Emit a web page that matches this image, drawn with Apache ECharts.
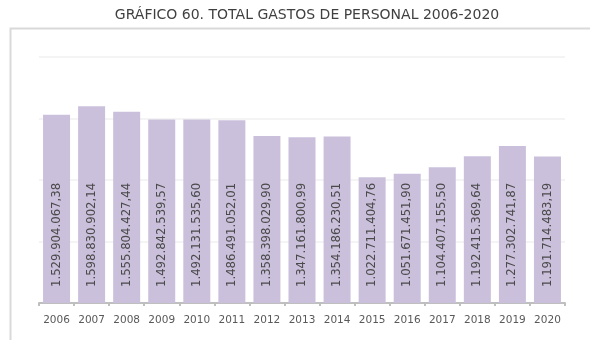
<!DOCTYPE html>
<html>
<head>
<meta charset="utf-8">
<script src="https://cdn.jsdelivr.net/npm/echarts@6/dist/echarts.min.js"></script>
<style>
  html, body { margin: 0; padding: 0; background: #ffffff; }
  #chart { width: 590px; height: 340px; }
</style>
</head>
<body>
<div id="chart"></div>
<script>
// Personnel expenses per year, in euros
const years = ['2006', '2007', '2008', '2009', '2010', '2011', '2012', '2013', '2014', '2015', '2016', '2017', '2018', '2019', '2020'];
const gastos = [1529904067.38, 1598830902.14, 1555804427.44, 1492842539.57, 1492131535.60, 1486491052.01, 1358398029.90, 1347161800.99, 1354186230.51, 1022711404.76, 1051671451.90, 1104407155.50, 1192415369.64, 1277302741.87, 1191714483.19];
const titulo = 'GRÁFICO 60. TOTAL GASTOS DE PERSONAL 2006-2020';

// Spanish number format: thousands with '.', decimals with ','
function formatoES(v) {
  const parts = v.toFixed(2).split('.');
  const ent = parts[0].replace(/\B(?=(\d{3})+(?!\d))/g, '.');
  return ent + ',' + parts[1];
}

const chart = echarts.init(document.getElementById('chart'), null, { renderer: 'canvas' });
chart.setOption({
  animation: false,
  backgroundColor: '#ffffff',
  title: {
    text: titulo,
    left: 302,
    textAlign: 'center',
    top: 3,
    textStyle: { fontFamily: 'DejaVu Sans', fontSize: 14, fontWeight: 'normal', color: '#404040' }
  },
  graphic: [{
    type: 'rect',
    shape: { x: 10.5, y: 28.5, width: 700, height: 400 },
    style: { fill: 'none', stroke: '#d9d9d9', lineWidth: 2 },
    silent: true
  }],
  grid: { left: 39, right: 25, top: 57, bottom: 37 },
  xAxis: {
    type: 'category',
    data: years,
    axisLine: { lineStyle: { color: '#bfbfbf', width: 2 } },
    axisTick: { show: true, alignWithLabel: false, length: 3, lineStyle: { color: '#bfbfbf', width: 2 } },
    axisLabel: { color: '#595959', fontFamily: 'DejaVu Sans', fontSize: 10.5, margin: 12 }
  },
  yAxis: {
    type: 'value',
    min: 0,
    max: 2000000000,
    interval: 500000000,
    axisLabel: { show: false },
    axisLine: { show: false },
    axisTick: { show: false },
    splitLine: { lineStyle: { color: '#f0f0f0', width: 1.5 } }
  },
  series: [{
    type: 'bar',
    data: gastos,
    barWidth: 27,
    itemStyle: { color: '#cbc0dc' },
    label: {
      show: true,
      position: 'insideBottom',
      rotate: 90,
      align: 'left',
      verticalAlign: 'middle',
      distance: 16,
      formatter: p => formatoES(p.value),
      color: '#4a4a4a',
      fontFamily: 'DejaVu Sans',
      fontSize: 11.7
    }
  }]
});
</script>
</body>
</html>
